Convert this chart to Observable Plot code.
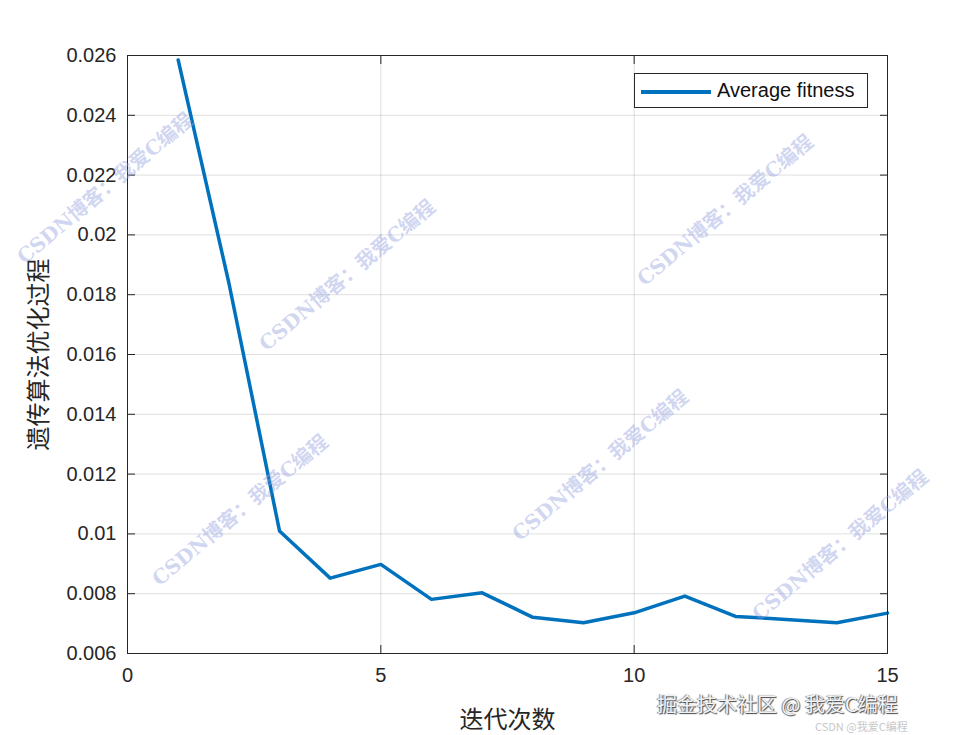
<!DOCTYPE html>
<html>
<head>
<meta charset="utf-8">
<script src="https://cdn.jsdelivr.net/npm/d3@7"></script>
<script src="https://cdn.jsdelivr.net/npm/@observablehq/plot@0.6"></script>
<style>
  html, body { margin: 0; padding: 0; background: #fff; }
  #wrap { position: relative; width: 980px; height: 735px; overflow: hidden;
          font-family: "Liberation Sans", Arial, "Noto Sans CJK SC", sans-serif; }
  #chart { position: absolute; left: 0; top: 0; }
  .legend { position: absolute; left: 634px; top: 73px; width: 232px; height: 33px;
            border: 1px solid #262626; background: #fff; box-sizing: content-box; }
  .legend .swatch { position: absolute; left: 6px; top: 16px; width: 70px; height: 3.5px; }
  .legend .lbl { position: absolute; left: 82px; top: 6px; font-size: 20px; line-height: 1; color: #111; white-space: nowrap; }
  .wm { position: absolute; white-space: nowrap; font-family: "DejaVu Serif", "Noto Sans CJK SC", serif;
        font-weight: bold; font-size: 20px; line-height: 1; color: rgba(150,162,225,0.45);
        transform: translate(-50%, -50%) rotate(-40deg); pointer-events: none; }
  .wm2 { position: absolute; white-space: nowrap; line-height: 1; font-family: "Noto Sans CJK SC", sans-serif; pointer-events: none; }
</style>
</head>
<body>
<div id="wrap">
  <div id="chart"></div>
</div>
<script>
// ---- data ----
const iterations = [1, 2, 3, 4, 5, 6, 7, 8, 9, 10, 11, 12, 13, 14, 15];
const avgFitness = [0.02585, 0.0184, 0.0101, 0.00852, 0.00898, 0.00781, 0.00803, 0.00721,
                    0.00703, 0.00736, 0.00792, 0.00724, 0.00714, 0.00703, 0.00735];
const xTicks = [0, 5, 10, 15];
const yTicks = [0.006, 0.008, 0.01, 0.012, 0.014, 0.016, 0.018, 0.02, 0.022, 0.024, 0.026];
const seriesName = "Average fitness";
const xLabel = "迭代次数";
const yLabel = "遗传算法优化过程";
const watermarkText = "CSDN博客：我爱C编程";
const footerText1 = "掘金技术社区 @ 我爱C编程";
const footerText2 = "CSDN @我爱C编程";

const lineColor = "#0072BD";
const axisColor = "#262626";
const fmt = d => String(+d.toFixed(3));
const data = iterations.map((x, i) => ({x, y: avgFitness[i]}));

const chart = Plot.plot({
  width: 980,
  height: 735,
  marginLeft: 127,
  marginRight: 93,
  marginTop: 55,
  marginBottom: 82,
  style: {fontFamily: '"Liberation Sans", Arial, "Noto Sans CJK SC", sans-serif', fontSize: "20px", color: axisColor, background: "#fff"},
  x: {domain: [0, 15], ticks: xTicks},
  y: {domain: [0.006, 0.026], ticks: yTicks},
  marks: [
    Plot.gridX(xTicks, {stroke: axisColor, strokeOpacity: 0.15}),
    Plot.gridY(yTicks, {stroke: axisColor, strokeOpacity: 0.15}),
    Plot.line(data, {x: "x", y: "y", stroke: lineColor, strokeWidth: 3.5, strokeLinejoin: "round"}),
    Plot.axisX(xTicks, {anchor: "bottom", tickSize: -8, tickPadding: 22, label: null, fontSize: 20}),
    Plot.axisX(xTicks, {anchor: "top", tickSize: -8, tickFormat: () => "", label: null}),
    Plot.axisY(yTicks, {anchor: "left", tickSize: -8, tickPadding: 19, tickFormat: fmt, label: null, fontSize: 20}),
    Plot.axisY(yTicks, {anchor: "right", tickSize: -8, tickFormat: () => "", label: null}),
    Plot.axisX([], {anchor: "bottom", tickSize: 0, label: xLabel, labelAnchor: "center", labelOffset: 74, labelArrow: "none", fontSize: 24, fontFamily: '"Noto Sans CJK SC", sans-serif'}),
    Plot.axisY([], {anchor: "left", tickSize: 0, label: yLabel, labelAnchor: "center", labelOffset: 98, labelArrow: "none", fontSize: 24, fontFamily: '"Noto Sans CJK SC", sans-serif'}),
    Plot.frame({stroke: axisColor, strokeWidth: 1})
  ]
});
document.getElementById("chart").appendChild(chart);

const wrap = document.getElementById("wrap");
// legend
const legend = document.createElement("div");
legend.className = "legend";
legend.innerHTML = `<div class="swatch" style="background:${lineColor}"></div><div class="lbl"></div>`;
legend.querySelector(".lbl").textContent = seriesName;
wrap.appendChild(legend);

// watermarks
const wmCenters = [[105, 188], [347, 275], [725, 210], [240, 510], [600, 465], [840, 545]];
wmCenters.forEach(([cx, cy]) => {
  const d = document.createElement("div");
  d.className = "wm";
  d.style.left = cx + "px";
  d.style.top = cy + "px";
  d.textContent = watermarkText;
  wrap.appendChild(d);
});
const f1 = document.createElement("div");
f1.className = "wm2";
f1.style.cssText = "left:657px;top:694px;font-size:20px;color:#f2f2f2;text-shadow:1px 1px 1px #444, -1px 0 1px #777;";
f1.textContent = footerText1;
wrap.appendChild(f1);
const f2 = document.createElement("div");
f2.className = "wm2";
f2.style.cssText = "left:815px;top:721px;font-size:11px;color:#c8c8c8;";
f2.textContent = footerText2;
wrap.appendChild(f2);
</script>
</body>
</html>
